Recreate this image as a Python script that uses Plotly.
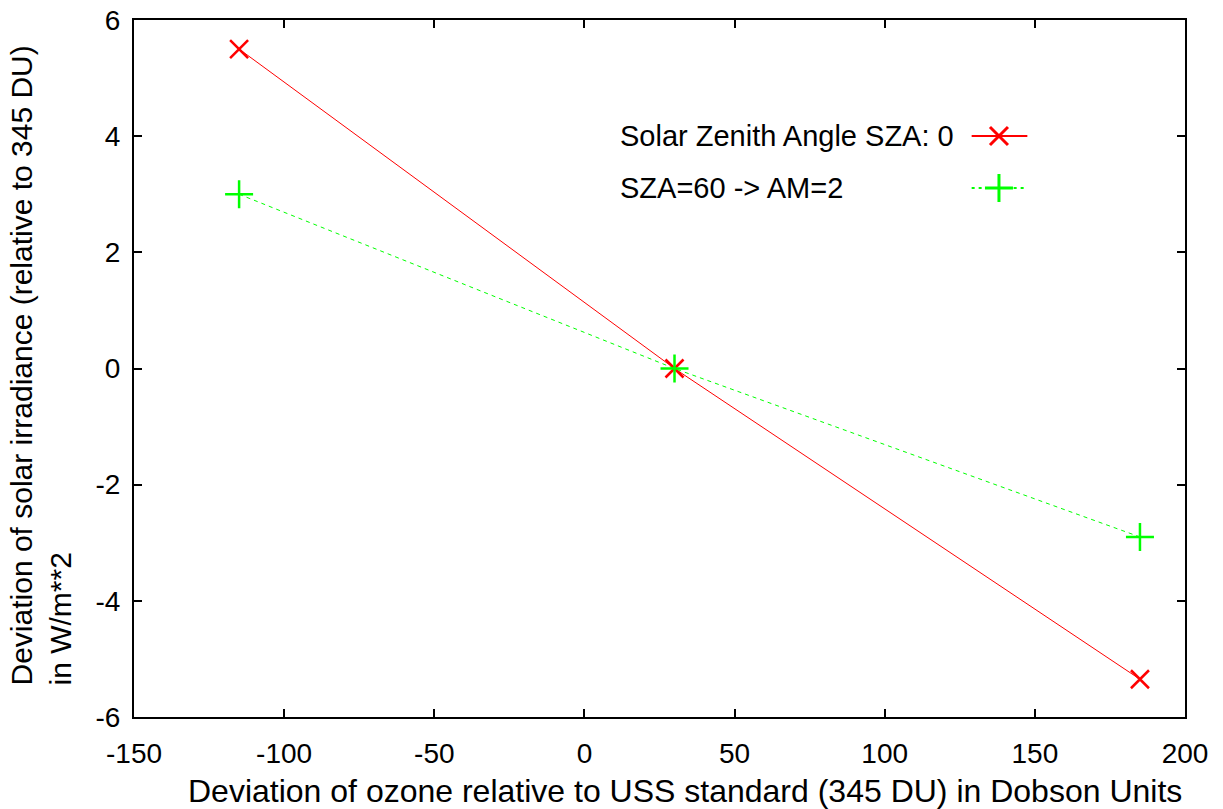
import plotly.graph_objects as go

# Data
ozone_dev = [-115, 30, 185]
sza0_dev = [5.5, 0.0, -5.35]
sza60_dev = [3.0, 0.0, -2.9]

series_names = ["Solar Zenith Angle SZA: 0", "SZA=60 -> AM=2"]
x_tickvals = [-150, -100, -50, 0, 50, 100, 150, 200]
x_ticktext = ["-150", "-100", "-50", "0", "50", "100", "150", "200"]
y_tickvals = [-6, -4, -2, 0, 2, 4, 6]
y_ticktext = ["-6", "-4", "-2", "0", "2", "4", "6"]

x_title = "Deviation of ozone relative to USS standard (345 DU) in Dobson Units"
y_title = "Deviation of solar irradiance (relative to 345 DU)<br>in W/m**2"

FONT = "Liberation Sans, Arial, sans-serif"
FS = 28
RED = "#ff0000"
GREEN = "#00ff00"

fig = go.Figure()

fig.add_trace(go.Scatter(
    x=ozone_dev, y=sza0_dev, mode="lines+markers", name=series_names[0],
    line=dict(color=RED, width=1),
    marker=dict(symbol="x-thin", size=18, line=dict(color=RED, width=2.5), color=RED),
    showlegend=False,
))
fig.add_trace(go.Scatter(
    x=ozone_dev, y=sza60_dev, mode="lines+markers", name=series_names[1],
    line=dict(color=GREEN, width=1, dash="4px,4px"),
    marker=dict(symbol="cross-thin", size=20, line=dict(color=GREEN, width=2.5), color=GREEN),
    showlegend=False,
))

# Manual gnuplot-style key (text left, sample right) on an overlay axis
key_y = [0.8336, 0.759]
fig.add_trace(go.Scatter(
    x=[0.797, 0.823, 0.850], y=[key_y[0]] * 3, xaxis="x2", yaxis="y2",
    mode="lines", line=dict(color=RED, width=2), showlegend=False, hoverinfo="skip"))
fig.add_trace(go.Scatter(
    x=[0.823], y=[key_y[0]], xaxis="x2", yaxis="y2", mode="markers",
    marker=dict(symbol="x-thin", size=18, line=dict(color=RED, width=3)),
    showlegend=False, hoverinfo="skip"))
fig.add_trace(go.Scatter(
    x=[0.797, 0.823, 0.850], y=[key_y[1]] * 3, xaxis="x2", yaxis="y2",
    mode="lines", line=dict(color=GREEN, width=2, dash="3px,4px"), showlegend=False, hoverinfo="skip"))
fig.add_trace(go.Scatter(
    x=[0.823], y=[key_y[1]], xaxis="x2", yaxis="y2", mode="markers",
    marker=dict(symbol="cross-thin", size=20, line=dict(color=GREEN, width=3)),
    showlegend=False, hoverinfo="skip"))

annotations = []
for name, ky in zip(series_names, key_y):
    annotations.append(dict(
        text=name, xref="paper", yref="paper", x=0.4605, y=ky,
        xanchor="left", yanchor="middle", showarrow=False,
        font=dict(family=FONT, size=29, color="black")))

annotations.append(dict(
    text=x_title, xref="paper", yref="paper", x=0.5245, y=0, yshift=-74,
    xanchor="center", yanchor="middle", showarrow=False,
    font=dict(family=FONT, size=32, color="black")))
annotations.append(dict(
    text=y_title, xref="paper", yref="paper", x=0, xshift=-93, y=0.5043,
    xanchor="center", yanchor="middle", textangle=-90, align="left", showarrow=False,
    font=dict(family=FONT, size=30, color="black")))

axis_common = dict(
    showline=True, linecolor="black", linewidth=2, mirror="ticks",
    ticks="inside", ticklen=8, tickwidth=2, tickcolor="black",
    showgrid=False, zeroline=False, automargin=False,
    tickfont=dict(family=FONT, size=FS, color="black"),
)

fig.update_layout(
    width=1223, height=809,
    margin=dict(l=134, r=38, t=20, b=92),
    paper_bgcolor="white", plot_bgcolor="white",
    xaxis=dict(range=[-150, 200], tickvals=x_tickvals, ticktext=x_ticktext,
               ticklabelstandoff=10, **axis_common),
    yaxis=dict(range=[-6, 6], tickvals=y_tickvals, ticktext=y_ticktext,
               ticklabelstandoff=6, **axis_common),
    xaxis2=dict(range=[0, 1], overlaying="x", visible=False),
    yaxis2=dict(range=[0, 1], overlaying="y", visible=False),
    annotations=annotations,
    font=dict(family=FONT, size=FS, color="black"),
)

fig.write_html("out.html")
